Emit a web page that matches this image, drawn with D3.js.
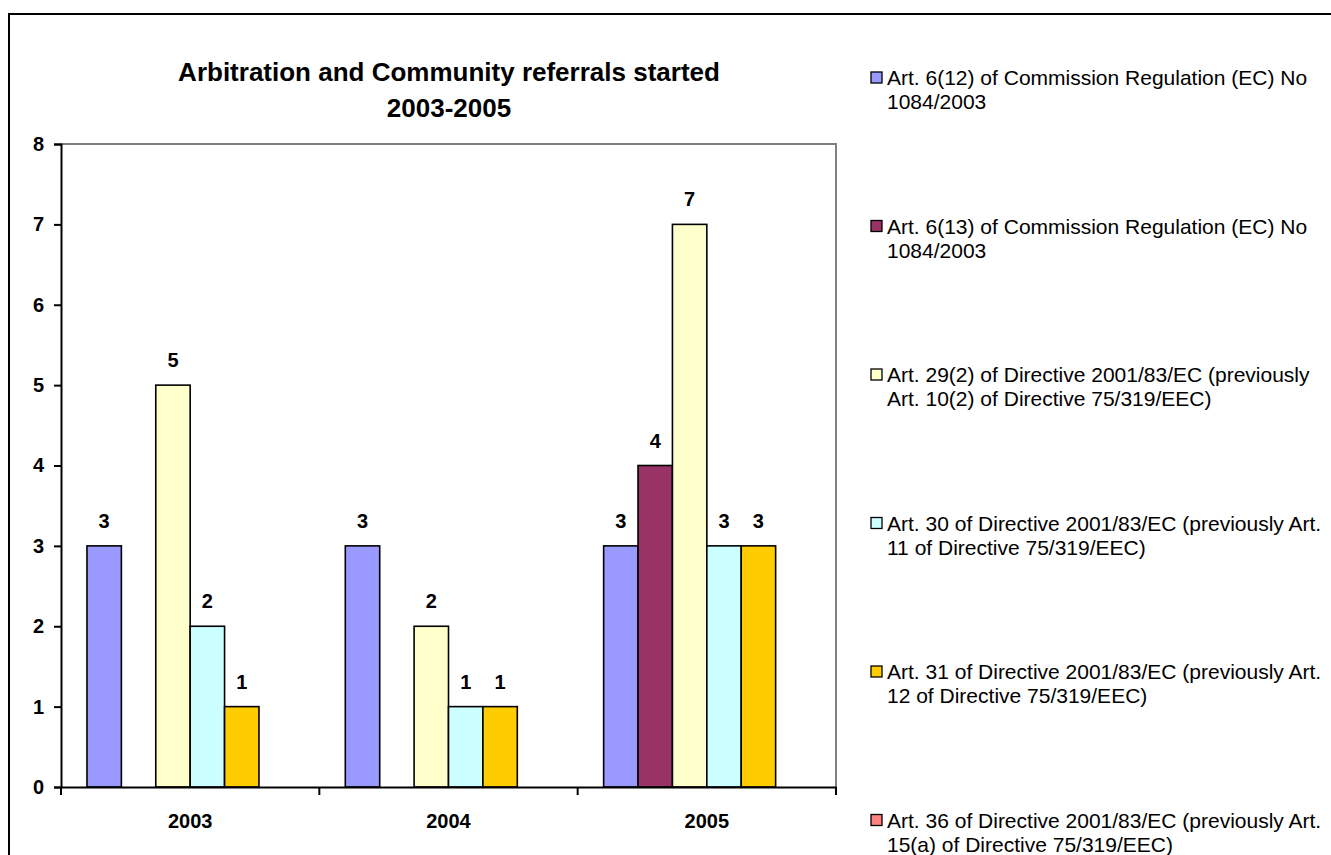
<!DOCTYPE html>
<html><head><meta charset="utf-8">
<script src="https://cdn.jsdelivr.net/npm/d3@7"></script>
<style>body{margin:0;background:#fff;} svg{display:block;} text{font-family:Arial,"Liberation Sans",sans-serif;}</style>
</head><body>
<svg id="c" width="1331" height="855"></svg>
<script>
const categories = ["2003", "2004", "2005"];
const seriesNames = [
  ["Art. 6(12) of Commission Regulation (EC) No", "1084/2003"],
  ["Art. 6(13) of Commission Regulation (EC) No", "1084/2003"],
  ["Art. 29(2) of Directive 2001/83/EC (previously", "Art. 10(2) of Directive 75/319/EEC)"],
  ["Art. 30 of Directive 2001/83/EC (previously Art.", "11 of Directive 75/319/EEC)"],
  ["Art. 31 of Directive 2001/83/EC (previously Art.", "12 of Directive 75/319/EEC)"],
  ["Art. 36 of Directive 2001/83/EC (previously Art.", "15(a) of Directive 75/319/EEC)"]
];
const art6_12 = [3, 3, 3];
const art6_13 = [null, null, 4];
const art29_2 = [5, 2, 7];
const art30 = [2, 1, 3];
const art31 = [1, 1, 3];
const art36 = [null, null, null];
const seriesValues = [art6_12, art6_13, art29_2, art30, art31, art36];
const colors = ["#9999FF", "#993366", "#FFFFCC", "#CCFFFF", "#FFCC00", "#FF8080"];
const yTicks = [0, 1, 2, 3, 4, 5, 6, 7, 8];
const titleLines = ["Arbitration and Community referrals started", "2003-2005"];

(function () {
const svg = d3.select("#c");
const pL = 61, pR = 836, pT = 144, pB = 787;

// outer border
svg.append("rect").attr("x", 9).attr("y", 14).attr("width", 1400).attr("height", 900)
  .attr("fill", "#fff").attr("stroke", "#000").attr("stroke-width", 2);

const x = d3.scaleBand().domain(categories).range([pL, pR]).paddingInner(0).paddingOuter(0);
const x1 = d3.scaleBand().domain(d3.range(seriesValues.length)).range([0, x.bandwidth()]).paddingOuter(0.755).paddingInner(0);
const y = d3.scaleLinear().domain([0, 8]).range([pB, pT]);

// plot border (gray top & right)
svg.append("path").attr("d", `M${pL},${pT}H${pR}V${pB}`).attr("fill", "none")
  .attr("stroke", "#808080").attr("stroke-width", 2);

// bars
const data = [];
categories.forEach((c, ci) => seriesValues.forEach((s, si) => {
  if (s[ci] != null) data.push({c, si, v: s[ci]});
}));
svg.append("g").selectAll("rect").data(data).join("rect")
  .attr("x", d => x(d.c) + x1(d.si))
  .attr("y", d => y(d.v))
  .attr("width", x1.bandwidth())
  .attr("height", d => y(0) - y(d.v))
  .attr("fill", d => colors[d.si]).attr("stroke", "#000").attr("stroke-width", 1.6);

// data labels
svg.append("g").selectAll("text").data(data).join("text")
  .attr("x", d => x(d.c) + x1(d.si) + x1.bandwidth() / 2)
  .attr("y", d => y(d.v) - 18)
  .attr("text-anchor", "middle").attr("font-size", 20).attr("font-weight", "bold")
  .text(d => d.v);

// y axis
const yAxis = svg.append("g").attr("transform", `translate(${pL},0)`)
  .call(d3.axisLeft(y).tickValues(yTicks).tickSize(7).tickPadding(10).tickFormat(d3.format("d")));
yAxis.select(".domain").attr("stroke", "#000").attr("stroke-width", 2);
yAxis.selectAll(".tick line").attr("stroke", "#000").attr("stroke-width", 2);
yAxis.selectAll(".tick text").attr("font-size", 20).attr("font-weight", "bold").attr("fill", "#000")
  .attr("font-family", "Arial, 'Liberation Sans', sans-serif");

// x axis
const xAxis = svg.append("g").attr("transform", `translate(0,${pB})`)
  .call(d3.axisBottom(x).tickSize(0).tickPadding(0).tickFormat(() => ""));
xAxis.select(".domain").attr("stroke", "#000").attr("stroke-width", 2);
const bounds = [pL].concat(categories.map(c => x(c) + x.bandwidth()));
svg.append("g").selectAll("line").data(bounds).join("line")
  .attr("x1", d => d).attr("x2", d => d).attr("y1", pB).attr("y2", pB + 8)
  .attr("stroke", "#000").attr("stroke-width", 2);
svg.append("g").selectAll("text").data(categories).join("text")
  .attr("x", d => x(d) + x.bandwidth() / 2).attr("y", 828)
  .attr("text-anchor", "middle").attr("font-size", 20).attr("font-weight", "bold").text(d => d);

// title
svg.append("g").selectAll("text").data(titleLines).join("text")
  .attr("x", 449).attr("y", (d, i) => 81 + i * 36)
  .attr("text-anchor", "middle").attr("font-size", 26).attr("font-weight", "bold").text(d => d);

// legend
const lg = svg.append("g").selectAll("g").data(seriesNames).join("g")
  .attr("transform", (d, i) => `translate(871,${72 + i * 148.5})`);
lg.append("rect").attr("width", 11).attr("height", 11)
  .attr("fill", (d, i) => colors[i]).attr("stroke", "#000").attr("stroke-width", 1.3);
lg.each(function(d) {
  d3.select(this).selectAll("text").data(d).join("text")
    .attr("x", 16).attr("y", (t, j) => 13 + j * 24)
    .attr("font-size", 21).text(t => t);
});
})();
</script>
</body></html>
